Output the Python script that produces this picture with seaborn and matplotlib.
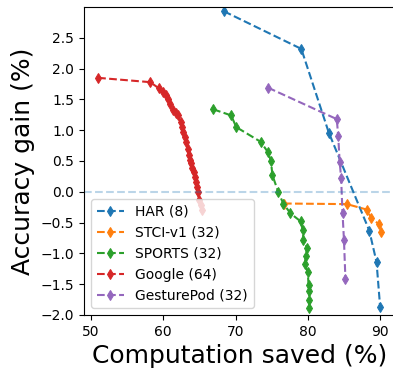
import matplotlib
matplotlib.use("Agg")
import matplotlib.pyplot as plt
import seaborn as sns
import pandas as pd

har_x = [68.4, 79.1, 82.9, 88.5, 89.5, 90.0]
har_y = [2.93, 2.32, 0.96, -0.63, -1.14, -1.87]

stci_x = [76.7, 85.4, 88.2, 88.75, 89.9, 90.1]
stci_y = [-0.19, -0.20, -0.29, -0.43, -0.53, -0.65]

sports_x = [66.9, 69.4, 70.1, 73.5, 74.5, 74.9, 75.1, 75.9, 76.6, 77.6, 79.0,
            79.3, 79.4, 79.9, 79.7, 79.6, 80.0, 80.1, 80.2, 80.2, 80.2]
sports_y = [1.34, 1.24, 1.05, 0.81, 0.64, 0.50, 0.27, 0.00, -0.19, -0.35, -0.48,
            -0.62, -0.78, -0.91, -1.04, -1.17, -1.31, -1.52, -1.61, -1.75, -1.88]

google_x = [51.0, 58.2, 59.4, 60.0, 60.4, 60.7, 61.0, 61.4, 61.7, 62.0, 62.4,
            62.6, 62.8, 63.0, 63.2, 63.4, 63.5, 63.7, 63.9, 64.0, 64.2, 64.4,
            64.6, 64.7, 64.8, 65.0, 65.2, 65.4]
google_y = [1.85, 1.78, 1.68, 1.62, 1.57, 1.50, 1.43, 1.32, 1.28, 1.24, 1.13,
            1.05, 0.97, 0.89, 0.81, 0.70, 0.59, 0.52, 0.46, 0.39, 0.32, 0.24,
            0.16, 0.08, 0.00, -0.14, -0.22, -0.30]

gest_x = [74.5, 84.0, 84.2, 84.4, 84.6, 84.8, 85.0, 85.2]
gest_y = [1.69, 1.18, 0.91, 0.49, 0.23, -0.35, -0.79, -1.42]

labels = ["HAR (8)", "STCI-v1 (32)", "SPORTS (32)", "Google (64)", "GesturePod (32)"]
series = [(har_x, har_y), (stci_x, stci_y), (sports_x, sports_y),
          (google_x, google_y), (gest_x, gest_y)]
colors = ["#1f77b4", "#ff7f0e", "#2ca02c", "#d62728", "#9467bd"]

fig = plt.figure(figsize=(3.93, 3.68), dpi=100)
ax = fig.add_axes([84 / 393, 53 / 368, 311 / 393, 308 / 368])

for (xs, ys), lab, c in zip(series, labels, colors):
    df = pd.DataFrame({"x": xs, "y": ys})
    sns.lineplot(data=df, x="x", y="y", ax=ax, sort=False, estimator=None,
                 color=c, marker="d", markersize=5.5, markeredgecolor=c,
                 linestyle="--", linewidth=1.5, label=lab)

ax.axhline(0, color="#1f77b4", linestyle="--", alpha=0.3, linewidth=1.5)

ax.set_ylim(-2.0, 3.0)
ax.set_yticks([-2.0, -1.5, -1.0, -0.5, 0.0, 0.5, 1.0, 1.5, 2.0, 2.5])
ax.set_xticks([50, 60, 70, 80, 90])
ax.tick_params(labelsize=10)
ax.set_xlabel("Computation saved (%)", fontsize=18)
ax.set_ylabel("Accuracy gain (%)", fontsize=18)
ax.legend(loc="lower left", fontsize=10, bbox_to_anchor=(0.0, 0.0))

fig.savefig("out.png", dpi=100)
